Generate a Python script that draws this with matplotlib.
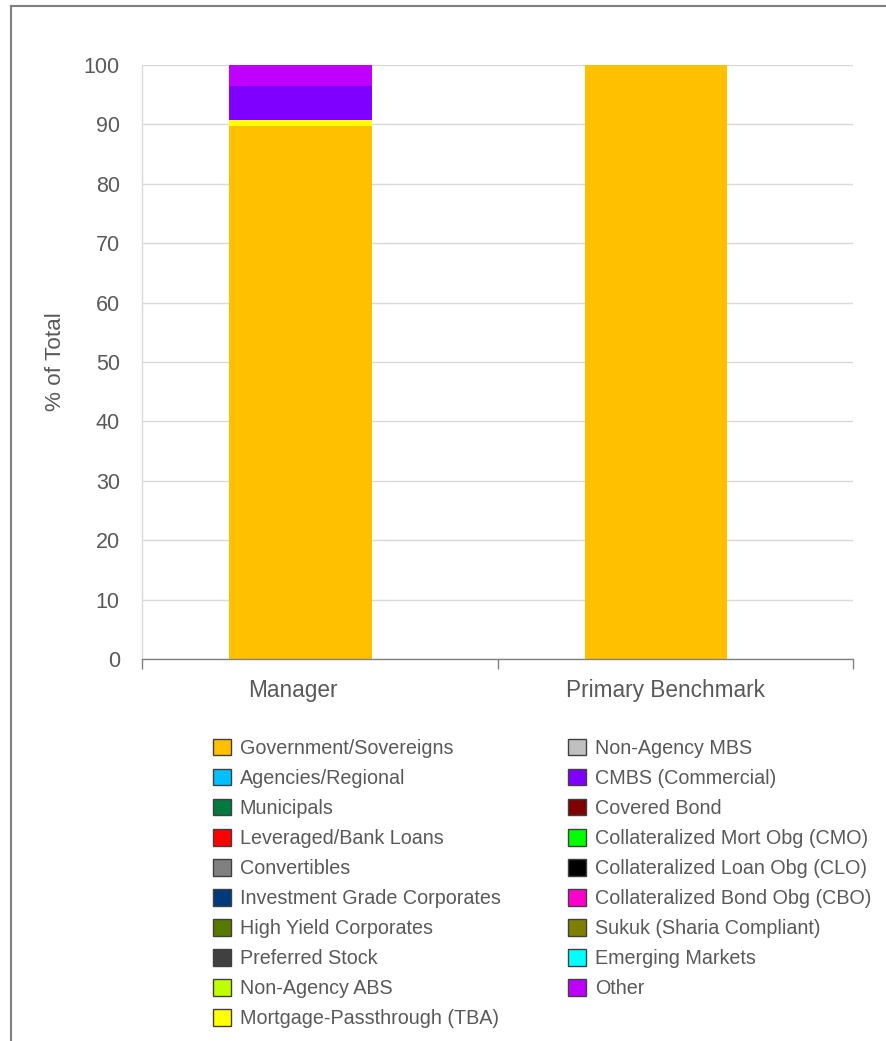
import matplotlib
matplotlib.use("Agg")
import matplotlib.pyplot as plt
from matplotlib.lines import Line2D
from matplotlib.ticker import FixedLocator

plt.rcParams['font.family'] = ['Liberation Sans', 'DejaVu Sans']

categories = ["Manager", "Primary Benchmark"]

sectors = [
    "Government/Sovereigns", "Agencies/Regional", "Municipals",
    "Leveraged/Bank Loans", "Convertibles", "Investment Grade Corporates",
    "High Yield Corporates", "Preferred Stock", "Non-Agency ABS",
    "Mortgage-Passthrough (TBA)", "Non-Agency MBS", "CMBS (Commercial)",
    "Covered Bond", "Collateralized Mort Obg (CMO)",
    "Collateralized Loan Obg (CLO)", "Collateralized Bond Obg (CBO)",
    "Sukuk (Sharia Compliant)", "Emerging Markets", "Other",
]

colors = [
    "#FFC000", "#00BFFF", "#007A3E", "#FF0000", "#808080", "#003A7D",
    "#567A00", "#404040", "#C0FF00", "#FFFF00", "#C0C0C0", "#8000FF",
    "#800000", "#00FF00", "#000000", "#FF00CC", "#808000", "#00FFFF",
    "#C000FF",
]

# values per sector: [Manager, Primary Benchmark]
manager_values = [89.7, 0, 0, 0, 0, 0, 0, 0, 0, 1.1, 0, 5.6, 0, 0, 0, 0, 0, 0, 3.6]
benchmark_values = [100.0, 0, 0, 0, 0, 0, 0, 0, 0, 0, 0, 0, 0, 0, 0, 0, 0, 0, 0]

yticks = [0, 10, 20, 30, 40, 50, 60, 70, 80, 90, 100]

W, H = 886, 1041
fig = plt.figure(figsize=(W / 100, H / 100), dpi=100)
ax = fig.add_axes([142 / W, 1 - 659 / H, (853 - 142) / W, (659 - 65) / H])

bar_x = [-0.054, 0.946]
label_x = [-0.075, 0.973]
bottoms = [0.0, 0.0]
handles = []
for name, col, mv, bv in zip(sectors, colors, manager_values, benchmark_values):
    bars = ax.bar(bar_x, [mv, bv], width=0.4, bottom=bottoms, color=col,
                  edgecolor="none", label=name, zorder=3)
    handles.append(bars)
    bottoms = [bottoms[0] + mv, bottoms[1] + bv]

ax.set_xlim(-0.5, 1.5)
ax.set_ylim(0, 100)
ax.set_yticks(yticks)
ax.set_xticks(label_x)
ax.set_xticklabels(categories)
ax.xaxis.set_minor_locator(FixedLocator([-0.5, 0.5, 1.5]))

text_color = "#595959"
ax.tick_params(axis="y", length=0, pad=16, labelsize=15.5, labelcolor=text_color)
ax.tick_params(axis="x", which="major", length=0, pad=14.5, labelsize=16.3,
               labelcolor=text_color)
ax.tick_params(axis="x", which="minor", length=7.5, width=1, color="#808080",
               direction="out")

ax.grid(axis="y", color="#D9D9D9", linewidth=1, zorder=0)
for s in ["top", "right"]:
    ax.spines[s].set_visible(False)
ax.spines["left"].set_color("#D9D9D9")
ax.spines["left"].set_linewidth(1)
ax.spines["bottom"].set_color("#808080")
ax.spines["bottom"].set_linewidth(1)
ax.spines["bottom"].set_zorder(4)

ax.set_ylabel("% of Total", fontsize=16.2, color=text_color)
ax.yaxis.set_label_coords(-0.107, 0.5)

# legend in two columns
leg_kw = dict(frameon=False, fontsize=14.2, handlelength=0.9, handleheight=0.9,
              handletextpad=0.45, labelspacing=0.56, borderpad=0,
              borderaxespad=0, labelcolor=text_color)
h1 = [h.patches[0] for h in handles[:10]]
h2 = [h.patches[0] for h in handles[10:]]
leg1 = fig.legend(h1, sectors[:10], loc="upper left",
                  bbox_to_anchor=(213 / W, 1 - 739 / H), **leg_kw)
leg2 = fig.legend(h2, sectors[10:], loc="upper left",
                  bbox_to_anchor=(568 / W, 1 - 739 / H), **leg_kw)
for leg in (leg1, leg2):
    for p in leg.get_patches():
        p.set_edgecolor("#404040")
        p.set_linewidth(1)

# outer frame lines (top and left)
fig.add_artist(Line2D([11 / W, 1.0], [1 - 5.5 / H, 1 - 5.5 / H],
                      transform=fig.transFigure, color="#7F7F7F", linewidth=1.5))
fig.add_artist(Line2D([11 / W, 11 / W], [0.0, 1 - 5.5 / H],
                      transform=fig.transFigure, color="#7F7F7F", linewidth=1.5))

fig.savefig("out.png", dpi=100, facecolor="white")
